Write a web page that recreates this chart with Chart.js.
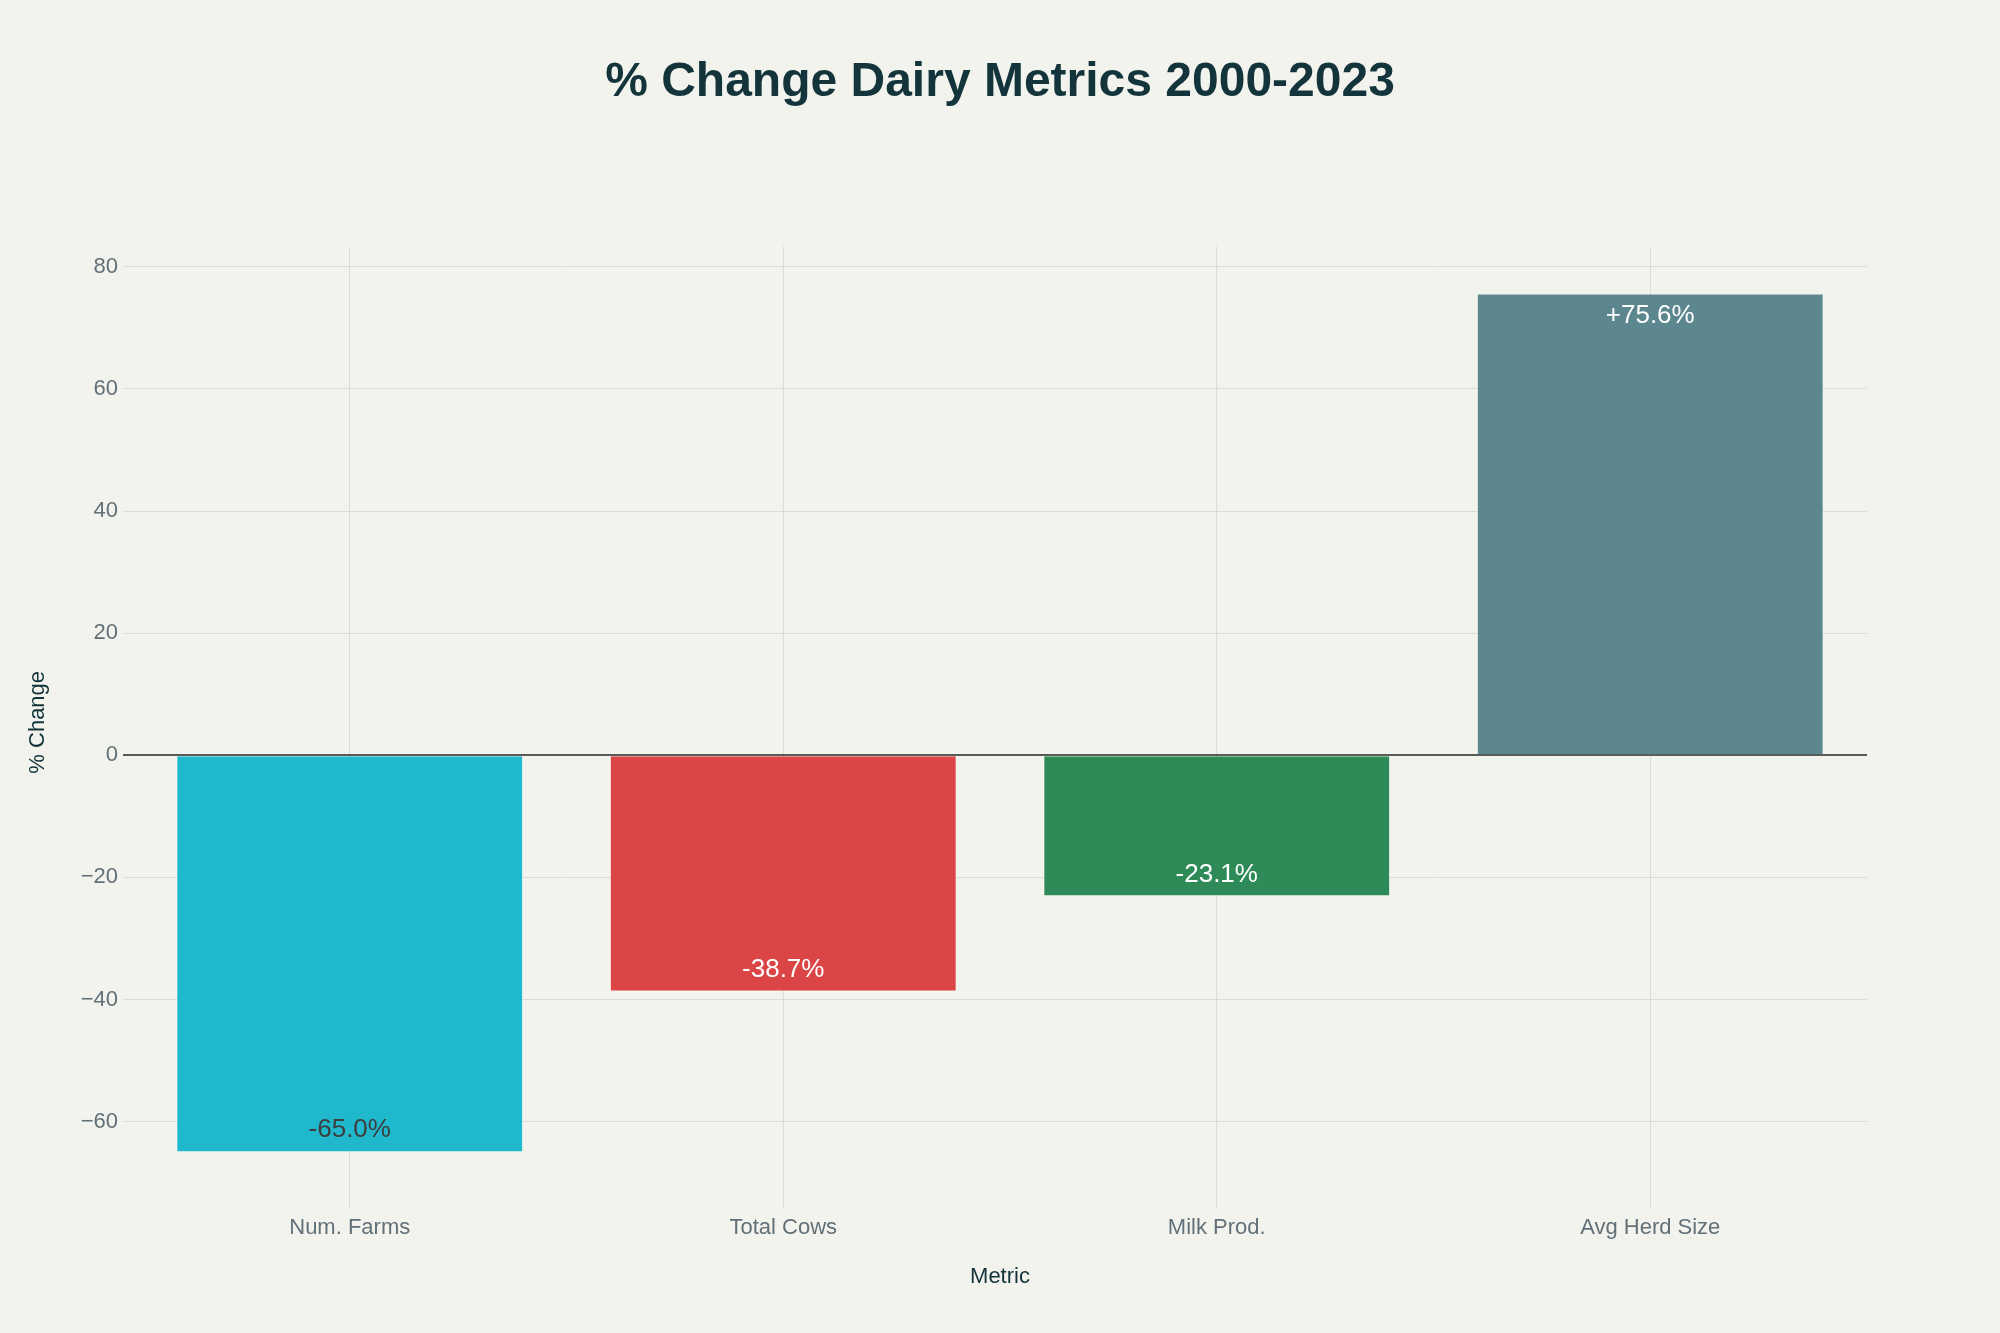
<!DOCTYPE html>
<html>
<head>
<meta charset="utf-8">
<title>% Change Dairy Metrics 2000-2023</title>
<script src="https://cdn.jsdelivr.net/npm/chart.js@4.4.1/dist/chart.umd.min.js"></script>
<style>
    body { margin: 0; background: #F3F3EE; }
    #chart { display: block; background: #F3F3EE; }
</style>
</head>
<body>
<canvas id="chart" width="2000" height="1333"></canvas>
<script>
const metrics = ['Num. Farms', 'Total Cows', 'Milk Prod.', 'Avg Herd Size'];
const pctChange = [-65.0, -38.7, -23.1, 75.6];
const barColors = ['#1FB8CD', '#DB4545', '#2E8B57', '#5D878F'];
const labelColors = ['#3d3d3d', '#ffffff', '#ffffff', '#ffffff'];
const yTicks = [-60, -40, -20, 0, 20, 40, 60, 80];

const fontFamily = '"Liberation Sans", Arial, sans-serif';
const darkText = '#13343B';
const tickText = '#627078';
const gridColor = '#dcdcd6';

// value labels drawn just inside the end of each bar
const barLabels = {
    id: 'barLabels',
    afterDatasetsDraw(chart) {
        const ctx = chart.ctx;
        const bars = chart.getDatasetMeta(0).data;
        ctx.save();
        ctx.font = '26px ' + fontFamily;
        ctx.textAlign = 'center';
        ctx.textBaseline = 'middle';
        bars.forEach((bar, i) => {
            const v = pctChange[i];
            const txt = (v > 0 ? '+' : '') + v.toFixed(1) + '%';
            const y = v < 0 ? bar.y - 22 : bar.y + 22;
            ctx.fillStyle = labelColors[i];
            ctx.fillText(txt, bar.x, y);
        });
        ctx.restore();
    }
};

const ctx = document.getElementById('chart').getContext('2d');

const config = {
    type: 'bar',
    data: {
        labels: metrics,
        datasets: [{
            data: pctChange,
            backgroundColor: barColors,
            borderColor: 'rgba(255,255,255,0.25)',
            borderWidth: 1,
            borderSkipped: 'start',
            categoryPercentage: 1,
            barPercentage: 0.8
        }]
    },
    options: {
        responsive: false,
        animation: false,
        devicePixelRatio: 1,
        layout: { padding: 0 },
        plugins: {
            legend: { display: false },
            tooltip: { enabled: false },
            title: {
                display: true,
                text: '% Change Dairy Metrics 2000-2023',
                color: darkText,
                font: { family: fontFamily, size: 48, weight: 'bold' },
                padding: { top: 54, bottom: 135 }
            }
        },
        scales: {
            x: {
                border: { display: false },
                grid: {
                    offset: false,
                    color: gridColor,
                    tickLength: 10
                },
                ticks: {
                    color: tickText,
                    font: { family: fontFamily, size: 22 },
                    padding: 7
                },
                title: {
                    display: true,
                    text: 'Metric',
                    color: darkText,
                    font: { family: fontFamily, size: 22 },
                    padding: { top: 0, bottom: 43 }
                },
                afterFit: (scale) => { scale.height = 135; }
            },
            y: {
                min: -72.5,
                max: 83.3,
                border: { display: false },
                afterBuildTicks: (scale) => {
                    scale.ticks = yTicks.map((v) => ({ value: v }));
                },
                grid: {
                    color: (c) => (c.tick && c.tick.value === 0 ? '#5a5a5a' : gridColor),
                    lineWidth: (c) => (c.tick && c.tick.value === 0 ? 2 : 1),
                    tickLength: 10
                },
                ticks: {
                    color: tickText,
                    font: { family: fontFamily, size: 22 },
                    padding: 5,
                    callback: (v) => (v < 0 ? '\u2212' + Math.abs(v) : String(v))
                },
                title: {
                    display: true,
                    text: '% Change',
                    color: darkText,
                    font: { family: fontFamily, size: 22 },
                    padding: { top: 25, bottom: 0 }
                },
                afterFit: (scale) => { scale.width = 133; }
            },
            // empty right margin so the title centres on the page
            yRight: {
                position: 'right',
                border: { display: false },
                grid: { display: false },
                ticks: { display: false },
                afterFit: (scale) => { scale.width = 133; }
            }
        }
    },
    plugins: [barLabels]
};

const chart = new Chart(ctx, config);
</script>
</body>
</html>
